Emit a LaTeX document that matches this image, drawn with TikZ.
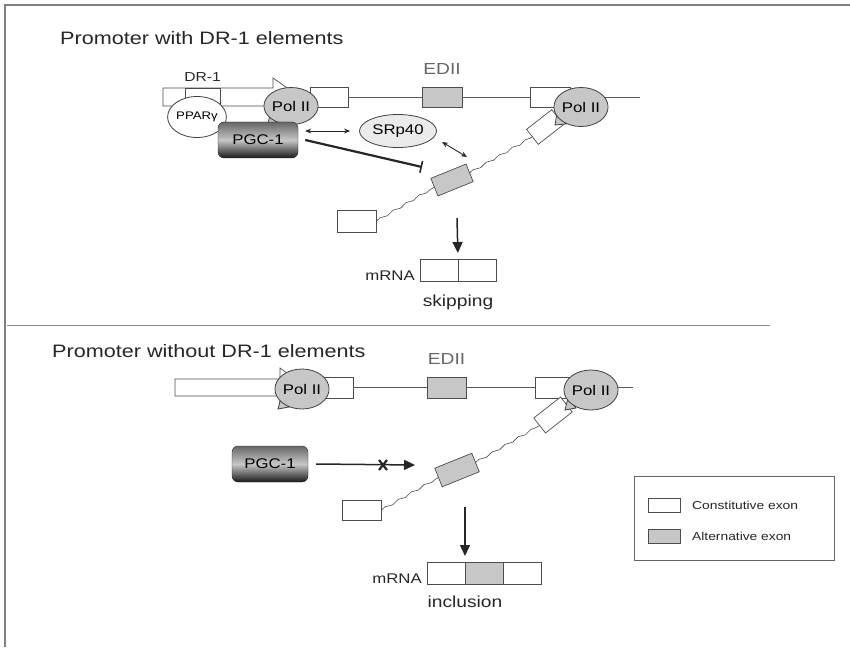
\documentclass[tikz,border=0pt]{standalone}
\usepackage{fontspec}
\setmainfont{Liberation Sans}[FakeStretch=1.2]
\usepackage{tikz}
\usetikzlibrary{positioning,shapes.geometric,arrows.meta,decorations.pathmorphing}

\tikzset{
  cexon/.style={draw=black!70, fill=white, line width=0.7pt, minimum width=38pt, minimum height=20pt, inner sep=0pt, outer sep=0pt},
  aexon/.style={cexon, fill=black!22},
  gene/.style={draw=black!65, line width=0.6pt},
  rna/.style={draw=black!70, line width=0.6pt, decorate, decoration={snake, amplitude=1pt, segment length=15pt}},
  prom/.style={draw=black!70, fill=white, line width=0.7pt},
  poltail/.style={draw=black!75, fill=black!22, line width=0.8pt},
  polii/.style={ellipse, draw=black!75, fill=black!22, line width=0.8pt, minimum width=52pt, minimum height=39pt, inner sep=0pt, font=\fontsize{14}{14}\selectfont},
  ppar/.style={ellipse, draw=black!75, fill=white, line width=0.8pt, minimum width=54pt, minimum height=41pt, inner sep=0pt, font=\fontsize{11}{11}\selectfont},
  srp/.style={ellipse, draw=black!75, fill=black!8, line width=0.8pt, minimum width=77pt, minimum height=33pt, inner sep=0pt, font=\fontsize{14}{14}\selectfont},
  pgc/.style={rectangle, rounded corners=6pt, draw=black!85, top color=black!60, bottom color=black!90, middle color=black!22, minimum width=80pt, minimum height=36pt, inner sep=0pt, font=\fontsize{14}{14}\selectfont},
  title/.style={font=\fontsize{18}{18}\selectfont, text=black!85, inner sep=0pt},
  edlbl/.style={font=\fontsize{16}{16}\selectfont, text=black!60, inner sep=0pt},
  lbl/.style={font=\fontsize{13}{13}\selectfont, text=black!85, inner sep=0pt},
  small/.style={font=\fontsize{14}{14}\selectfont, text=black!85, inner sep=0pt},
  big/.style={font=\fontsize{16}{16}\selectfont, text=black!85, inner sep=0pt},
  legtxt/.style={font=\fontsize{11.5}{11.5}\selectfont, text=black!85, inner sep=0pt, anchor=west},
  dbl/.style={{Stealth[length=6pt,width=5pt]}-{Stealth[length=6pt,width=5pt]}, line width=0.9pt, draw=black!85},
  inhib/.style={-{Bar[width=12pt,line width=1.6pt]}, line width=2.2pt, draw=black!85},
  blockarr/.style={-{Triangle[length=11pt,width=10pt]}, line width=1.5pt, draw=black!85},
  frame/.style={draw=black!50, line width=1.6pt}
}

\begin{document}
\begin{tikzpicture}[x=1pt,y=-1pt]
\useasboundingbox (0,0) rectangle (850,647);

\draw[frame] (5,647) -- (5,5) -- (850,5); %outer frame
\draw[draw=black!45, line width=0.8pt] (7,325) -- (770,325); %divider

%%% with DR-1
\node[title, anchor=base west] (tA) at (60,45) {Promoter with DR-1 elements};

\node[cexon] (eA1) at (329,97) {};
\node[aexon, minimum width=40pt] (eA2) at (442,97) {};
\node[cexon, minimum width=40pt] (eA3) at (550,97) {};
\coordinate (gA) at (640,97);
\draw[gene] (eA1.east) -- (eA2.west);
\draw[gene] (eA2.east) -- (eA3.west);
\draw[gene] (eA3.east) -- (gA);
\node[edlbl, above=12pt of eA2] (edA) {EDII};

\draw[prom] (163,88) -- (273,88) -- (273,78) -- (300,97) -- (273,116) -- (273,106) -- (163,106) -- cycle; %promoter
\node[draw=black!70, line width=0.7pt, minimum width=35pt, minimum height=18pt, inner sep=0pt] (drA) at (202.5,97) {};
\node[lbl, above=6pt of drA] (drlbl) {DR-1};
\node[ppar] (ppar) at (197,117) {PPARγ};

\filldraw[poltail] (270,116) -- (267,126) -- (278,123) -- cycle;
\node[polii, minimum height=37pt] (polA1) at (291,106) {Pol II};

% transcript
\node[cexon, minimum width=39pt, minimum height=22pt] (cA1) at (357,221) {};
\node[aexon, minimum height=19pt, rotate=22] (aA1) at (452,180) {};
\node[cexon, minimum width=32pt, minimum height=19pt, rotate=38] (cA2) at (545,127) {};
\draw[rna] (cA1.east) -- (aA1.west);
\draw[rna] (aA1.east) -- (cA2.west);
\filldraw[poltail] (557,113) -- (555,125) -- (566,124) -- cycle;
\node[polii] (polA2) at (581,107) {Pol II};

\node[srp] (srp) at (398,131) {SRp40};
\node[pgc] (pgcA) at (258,140) {PGC-1};

\draw[dbl] ([xshift=7pt]pgcA.east |- srp.west) -- ([xshift=-9pt]srp.west);
\coordinate (sA) at (442,142);
\coordinate (sB) at (467,157);
\draw[dbl] (sA) -- (sB);
\coordinate (inhA) at (422,167);
\draw[inhib] ([xshift=7pt]pgcA.east) -- (inhA);

\node[cexon, minimum height=22pt] (mA1) at (439,270) {};
\node[cexon, minimum height=22pt, right=0pt of mA1] (mA2) {};
\coordinate (dA) at (457,218);
\draw[blockarr, shorten >=6pt] (dA) -- (mA1.north east);
\node[small, anchor=base east] (mrnaA) at ([xshift=-5pt,yshift=1pt]mA1.south west) {mRNA};
\node[big, below=14pt of mA1.south east] (skip) {skipping};

%%% without DR-1
\node[title, anchor=base west] (tB) at (52,357) {Promoter without DR-1 elements};

\node[cexon, minimum width=30pt, minimum height=21pt] (eB1) at (338,387.5) {};
\node[aexon, minimum width=39pt, minimum height=21pt] (eB2) at (446.5,387.5) {};
\node[cexon, minimum width=35pt, minimum height=21pt] (eB3) at (552.5,387.5) {};
\coordinate (gB) at (633,387.5);
\draw[gene] (eB1.east) -- (eB2.west);
\draw[gene] (eB2.east) -- (eB3.west);
\draw[gene] (eB3.east) -- (gB);
\node[edlbl, above=12pt of eB2] (edB) {EDII};

\draw[prom] (175,379) -- (280,379) -- (280,368) -- (307,387.5) -- (280,407) -- (280,396) -- (175,396) -- cycle; %promoter

\filldraw[poltail] (281,398) -- (278,409) -- (289,407) -- cycle;
\node[polii, minimum height=40pt] (polB1) at (302,389) {Pol II};

\node[cexon, minimum width=39pt] (cB1) at (362,510) {};
\node[aexon, minimum width=40pt, rotate=22] (aB1) at (457,470) {};
\node[cexon, minimum width=34pt, minimum height=19pt, rotate=38] (cB2) at (553,415) {};
\draw[rna] (cB1.east) -- (aB1.west);
\draw[rna] (aB1.east) -- (cB2.west);
\filldraw[poltail] (568,398) -- (565,410) -- (576,408) -- cycle;
\node[polii, minimum height=40pt] (polB2) at (591,390) {Pol II};

\node[pgc, minimum width=76pt] (pgcB) at (270,464) {PGC-1};
\coordinate (xTip) at (415,465);
\draw[blockarr] ([xshift=8pt]pgcB.east) -- (xTip);
\coordinate (xmark) at (383,465);
\draw[line width=2.2pt, draw=black!85] ([shift={(-4,-5)}]xmark) -- ([shift={(4,5)}]xmark);
\draw[line width=2.2pt, draw=black!85] ([shift={(-4,5)}]xmark) -- ([shift={(4,-5)}]xmark);

\node[cexon, minimum height=22pt] (mB1) at (446,573) {};
\node[aexon, minimum height=22pt, right=0pt of mB1] (mB2) {};
\node[cexon, minimum height=22pt, right=0pt of mB2] (mB3) {};
\coordinate (dB) at (465,507);
\draw[blockarr, shorten >=6pt] (dB) -- (mB1.north east);
\node[small, anchor=base east] (mrnaB) at ([xshift=-5pt,yshift=1pt]mB1.south west) {mRNA};
\node[big, below=12pt of mB1.south east] (incl) {inclusion};

% legend
\node[draw=black!60, line width=0.8pt, minimum width=200pt, minimum height=84pt, inner sep=0pt] (leg) at (734,518) {};
\node[cexon, minimum width=32pt, minimum height=14pt] (legC) at (664,505) {};
\node[aexon, minimum width=32pt, minimum height=14pt] (legA) at (664,536) {};
\node[legtxt, right=12pt of legC] (legCt) {Constitutive exon};
\node[legtxt, right=12pt of legA] (legAt) {Alternative exon};

\end{tikzpicture}
\end{document}
